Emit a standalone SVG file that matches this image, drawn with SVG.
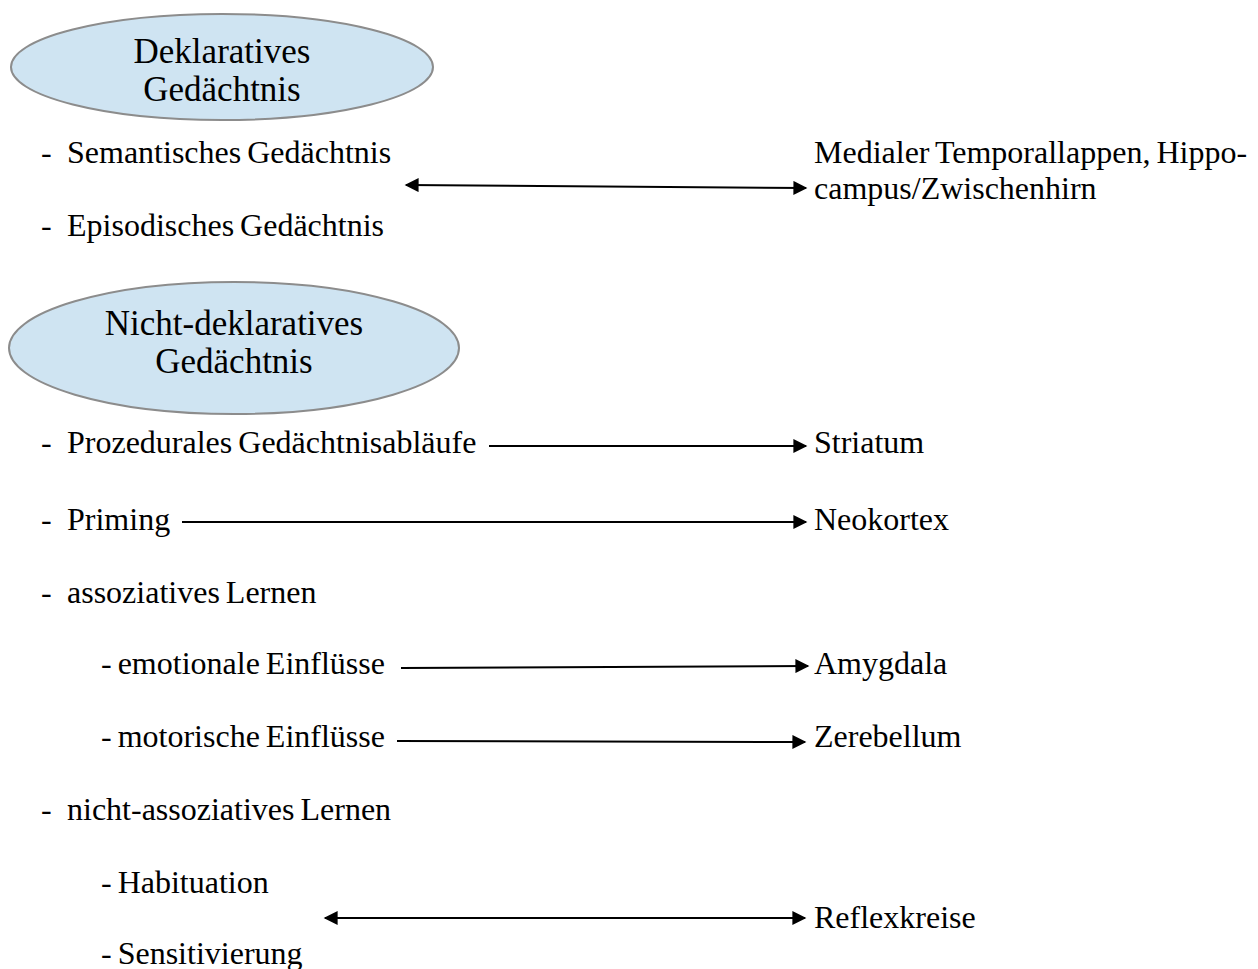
<svg xmlns="http://www.w3.org/2000/svg" width="1258" height="969" viewBox="0 0 1258 969">
<style>
text{font-family:"Liberation Serif","Times New Roman",serif;font-size:32px;fill:#000;word-spacing:-2px}
.t{font-size:35px;text-anchor:middle}
.e{fill:#cfe4f2;stroke:#8c8c8c;stroke-width:2}
.c{stroke:#000;stroke-width:2;fill:none}
</style>
<defs>
<marker id="ah" viewBox="0 0 10 10" refX="9" refY="5" markerWidth="15" markerHeight="14" markerUnits="userSpaceOnUse" orient="auto-start-reverse"><path d="M0,0 L10,5 L0,10 Z" fill="#000"/></marker>
</defs>
<rect width="1258" height="969" fill="#fff"/>
<g id="decl">
<ellipse class="e" cx="222" cy="67" rx="211" ry="53"/>
<text class="t" x="222" y="63">Deklaratives</text>
<text class="t" x="222" y="101">Gedächtnis</text>
</g>
<g id="nondecl">
<ellipse class="e" cx="234" cy="348" rx="225" ry="66"/>
<text class="t" x="234" y="335">Nicht-deklaratives</text>
<text class="t" x="234" y="373">Gedächtnis</text>
</g>
<g id="left">
<text x="41" y="163">-</text><text x="67" y="163">Semantisches Gedächtnis</text>
<text x="41" y="236">-</text><text x="67" y="236">Episodisches Gedächtnis</text>
<text x="41" y="453">-</text><text x="67" y="453">Prozedurales Gedächtnisabläufe</text>
<text x="41" y="530">-</text><text x="67" y="530">Priming</text>
<text x="41" y="603">-</text><text x="67" y="603">assoziatives Lernen</text>
<text x="101" y="674">- emotionale Einflüsse</text>
<text x="101" y="747">- motorische Einflüsse</text>
<text x="41" y="820">-</text><text x="67" y="820">nicht-assoziatives Lernen</text>
<text x="101" y="893">- Habituation</text>
<text x="101" y="964">- Sensitivierung</text>
</g>
<g id="right">
<text x="814" y="163">Medialer Temporallappen, Hippo-</text>
<text x="814" y="199">campus/Zwischenhirn</text>
<text x="814" y="453">Striatum</text>
<text x="814" y="530">Neokortex</text>
<text x="814" y="674">Amygdala</text>
<text x="814" y="747">Zerebellum</text>
<text x="814" y="928">Reflexkreise</text>
</g>
<g id="connectors">
<line class="c" x1="406" y1="185" x2="806" y2="188" marker-start="url(#ah)" marker-end="url(#ah)"/>
<line class="c" x1="489" y1="446" x2="806" y2="446" marker-end="url(#ah)"/>
<line class="c" x1="182" y1="522" x2="806" y2="522" marker-end="url(#ah)"/>
<line class="c" x1="401" y1="668" x2="808" y2="666" marker-end="url(#ah)"/>
<line class="c" x1="397" y1="741" x2="805" y2="742" marker-end="url(#ah)"/>
<line class="c" x1="325" y1="918" x2="805" y2="918" marker-start="url(#ah)" marker-end="url(#ah)"/>
</g>
</svg>
